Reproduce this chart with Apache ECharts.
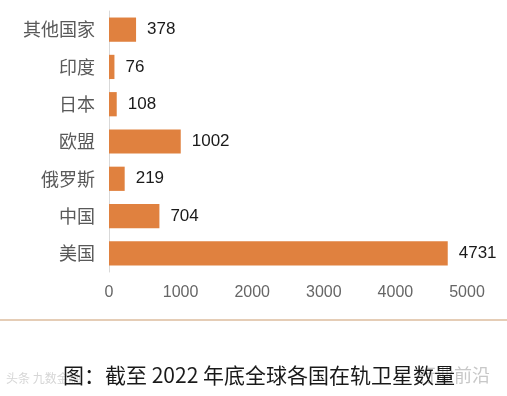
<!DOCTYPE html>
<html>
<head>
<meta charset="utf-8">
<script src="https://cdn.jsdelivr.net/npm/echarts@6/dist/echarts.min.js"></script>
<style>
html,body{margin:0;padding:0;background:#fff;}
#c{width:507px;height:396px;}
</style>
</head>
<body>
<div id="c"></div>
<script>
const categories = ['其他国家', '印度', '日本', '欧盟', '俄罗斯', '中国', '美国'];
const values = [378, 76, 108, 1002, 219, 704, 4731];
const xTicks = [0, 1000, 2000, 3000, 4000, 5000];
const caption = '图：截至 2022 年底全球各国在轨卫星数量';

const chart = echarts.init(document.getElementById('c'), null, {renderer: 'canvas'});
chart.setOption({
  backgroundColor: '#ffffff',
  animation: false,
  grid: {left: 109, right: 40, top: 11, height: 261, containLabel: false},
  xAxis: {
    type: 'value',
    min: xTicks[0],
    max: xTicks[xTicks.length - 1],
    interval: xTicks[1] - xTicks[0],
    axisLine: {show: false},
    axisTick: {show: false},
    splitLine: {show: false},
    axisLabel: {
      color: '#666666',
      fontSize: 16,
      margin: 13,
      formatter: v => String(v),
      fontFamily: 'Liberation Sans, Arial, sans-serif'
    }
  },
  yAxis: {
    type: 'category',
    data: categories,
    inverse: true,
    axisLine: {show: true, lineStyle: {color: '#d9d9d9', width: 1}},
    axisTick: {show: false},
    axisLabel: {
      color: '#595959',
      fontSize: 18,
      margin: 14,
      fontFamily: 'Noto Sans CJK SC, sans-serif'
    }
  },
  series: [{
    type: 'bar',
    data: values,
    barCategoryGap: '35%',
    itemStyle: {color: '#E0813F'},
    label: {
      show: true,
      position: 'right',
      distance: 11,
      color: '#1a1a1a',
      fontSize: 17,
      fontFamily: 'Liberation Sans, Arial, sans-serif'
    }
  }],
  graphic: [
    {
      type: 'line',
      shape: {x1: 0, y1: 320, x2: 507, y2: 320},
      style: {stroke: '#dcbc9e', lineWidth: 1.5}
    },
    {
      type: 'text',
      left: 418, top: 366,
      style: {text: '行业前沿', fill: '#c8c8c8', font: '18px "Noto Sans CJK SC"'}
    },
    {
      type: 'text',
      left: 6, top: 372,
      style: {text: '头条 九数金融', fill: '#d6d6d6', font: '12px "Noto Sans CJK SC"'}
    },
    {
      type: 'text',
      left: 63, top: 365,
      style: {text: caption, fill: '#1a1a1a', font: '21px "Noto Sans CJK SC"'}
    }
  ]
});
</script>
</body>
</html>
